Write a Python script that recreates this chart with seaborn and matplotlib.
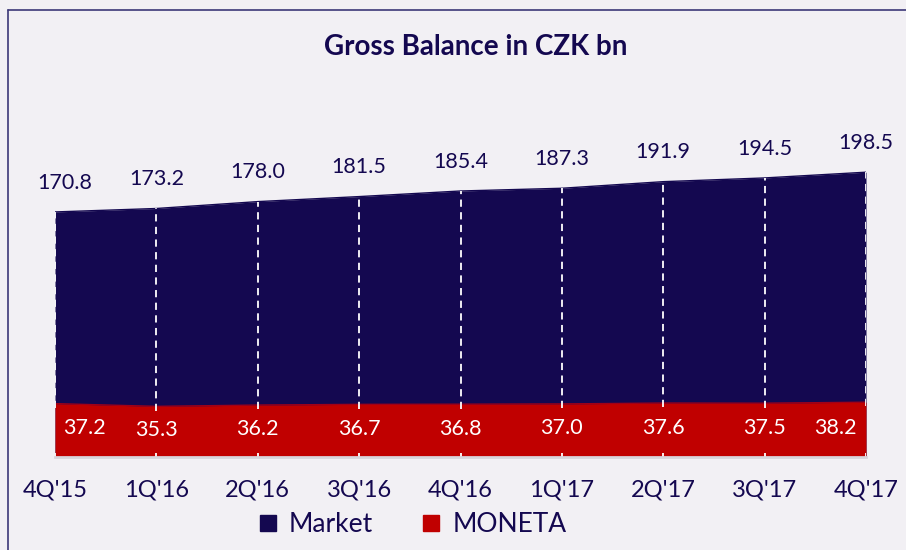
import pandas as pd
import matplotlib.pyplot as plt
import seaborn as sns
from matplotlib.lines import Line2D

# Data
quarters = ["4Q'15", "1Q'16", "2Q'16", "3Q'16", "4Q'16", "1Q'17", "2Q'17", "3Q'17", "4Q'17"]
market = [170.8, 173.2, 178.0, 181.5, 185.4, 187.3, 191.9, 194.5, 198.5]
moneta = [37.2, 35.3, 36.2, 36.7, 36.8, 37.0, 37.6, 37.5, 38.2]

df = pd.DataFrame({'quarter': quarters, 'Market': market, 'MONETA': moneta})
df['pos'] = range(len(df))

NAVY = '#140850'
RED = '#c00000'
BG = '#f2f0f4'

sns.set_theme(style='white', rc={'figure.facecolor': BG, 'axes.facecolor': BG})
plt.rcParams['font.family'] = ['Lato', 'DejaVu Sans']

fig = plt.figure(figsize=(9.06, 5.5), dpi=100)
ax = fig.add_axes([55 / 906, 93 / 550, (866 - 55) / 906, 330 / 550])

# areas: market drawn from zero, MONETA overlaid
ax.fill_between(df['pos'], 0, df['Market'], color=NAVY, linewidth=0)
ax.fill_between(df['pos'], 0, df['MONETA'], color=RED, linewidth=0)
sns.lineplot(data=df, x='pos', y='Market', color=NAVY, linewidth=1, ax=ax)
sns.lineplot(data=df, x='pos', y='MONETA', color='#a00018', linewidth=1, ax=ax)

# dashed white separators
ax.vlines(df['pos'], df['MONETA'] - 3, df['Market'], colors='white',
          linestyles=(0, (4, 3)), linewidth=1.3)
ax.vlines(df['pos'], 0, 2.5, colors='white', linewidth=1.3)

for i, row in df.iterrows():
    dx = 0
    if i == 0:
        dx = 7
    ax.annotate(f"{row['Market']:.1f}", (row['pos'], row['Market']),
                xytext=(dx, 21), textcoords='offset points', ha='center', va='center',
                fontsize=15.5, color=NAVY)
    dx = 0
    if i == 0:
        dx = 21
    elif i == len(df) - 1:
        dx = -22
    ax.annotate(f"{row['MONETA']:.1f}", (row['pos'], row['MONETA'] / 2),
                xytext=(dx, 1.5), textcoords='offset points', ha='center', va='center',
                fontsize=15.5, color='white')

ax.set_xlim(0, len(df) - 1)
ax.set_ylim(0, 230)
ax.set_xticks(df['pos'])
ax.set_xticklabels(df['quarter'], fontsize=17, color=NAVY)
ax.tick_params(axis='x', length=0, pad=16)
ax.set_yticks([])
ax.set_xlabel('')
ax.set_ylabel('')
for s in ['top', 'right', 'left']:
    ax.spines[s].set_visible(False)
ax.spines['bottom'].set_color('#d8d5dc')
ax.spines['bottom'].set_linewidth(2)

fig.text(476 / 906, 1 - 47 / 550, 'Gross Balance in CZK bn', ha='center', va='center',
         fontsize=20, fontweight='bold', color=NAVY)

# outer frame lines (left and top)
fig.add_artist(Line2D([8 / 906, 8 / 906], [0, 1 - 10 / 550], color='#3c3878', linewidth=1.2))
fig.add_artist(Line2D([8 / 906, 1], [1 - 10 / 550, 1 - 10 / 550], color='#3c3878', linewidth=1.2))

handles = [Line2D([], [], marker='s', linestyle='', color=NAVY, markersize=12),
           Line2D([], [], marker='s', linestyle='', color=RED, markersize=12)]
fig.legend(handles, ['Market', 'MONETA'], loc='center', bbox_to_anchor=(404 / 906, 1 - 525 / 550),
           ncol=2, frameon=False, fontsize=19, handletextpad=-0.2, columnspacing=1.2,
           labelcolor=NAVY)

fig.savefig('out.png', dpi=100, facecolor=BG)
